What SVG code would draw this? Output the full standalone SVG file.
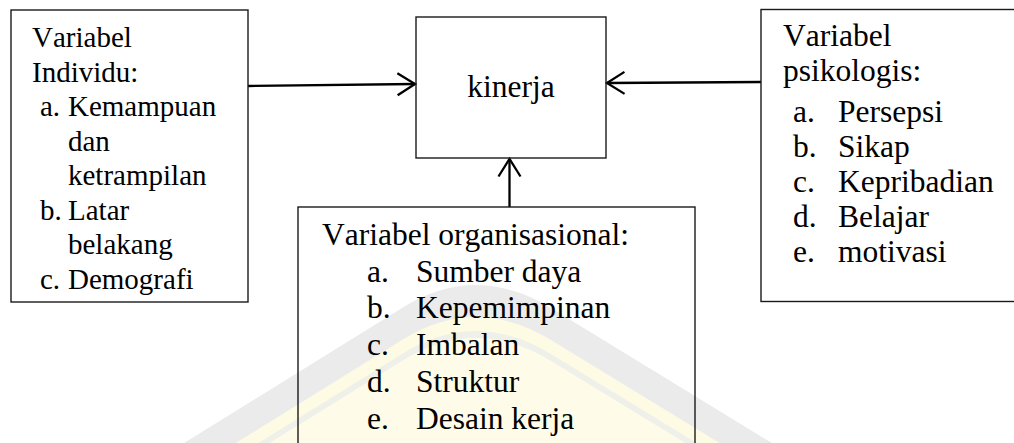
<svg xmlns="http://www.w3.org/2000/svg" width="1014" height="443" viewBox="0 0 1014 443">
  <style>
    .box { fill: none; stroke: #1a1a1a; stroke-width: 1.4; }
    .t { font-family: "Liberation Serif", "Times New Roman", serif; fill: #000; font-kerning: none; }
    .s { font-size: 29px; }
    .m { font-size: 31.5px; }
    .con { stroke: #000; stroke-width: 2.3; fill: none; }
  </style>
  <defs>
    <marker id="open" markerUnits="userSpaceOnUse" markerWidth="22" markerHeight="26" refX="19" refY="13" orient="auto">
      <path d="M1.5,2 L19,13 L1.5,24" fill="none" stroke="#000" stroke-width="2.3"/>
    </marker>
    <!-- rounded chevron used for the faint background emblem -->
    <path id="chev" d="M 92,500 L 402,308 Q 475,262 551,308 L 898,520 Z"/>
  </defs>

  <rect width="1014" height="443" fill="#fff"/>

  <g id="emblem">
    <use href="#chev" fill="#ebebeb"/>
    <use href="#chev" transform="translate(0,32)" fill="#fdfbe4"/>
    <use href="#chev" transform="translate(0,46)" fill="#f0f0ea"/>
    <use href="#chev" transform="translate(0,53)" fill="#fefce9"/>
  </g>

  <g id="connectors">
    <line class="con" x1="248" y1="86" x2="415" y2="84" marker-end="url(#open)"/>
    <line class="con" x1="761" y1="82" x2="607" y2="83" marker-end="url(#open)"/>
    <line class="con" x1="509.5" y1="207" x2="509.5" y2="159" marker-end="url(#open)"/>
  </g>

  <g id="individu">
    <rect class="box" x="11" y="10" width="237" height="292"/>
    <g class="t s">
      <text x="32" y="47">Variabel</text>
      <text x="32" y="81.5">Individu:</text>
      <text x="40" y="116">a.</text><text x="68" y="116">Kemampuan</text>
      <text x="68" y="150.5">dan</text>
      <text x="68" y="185">ketrampilan</text>
      <text x="40" y="219.5">b.</text><text x="68" y="219.5">Latar</text>
      <text x="68" y="254">belakang</text>
      <text x="40" y="288.5">c.</text><text x="68" y="288.5">Demografi</text>
    </g>
  </g>

  <g id="kinerja">
    <rect class="box" x="416" y="17" width="190" height="141"/>
    <text class="t m" x="511" y="97" text-anchor="middle">kinerja</text>
  </g>

  <g id="psikologis">
    <rect class="box" x="761" y="9.5" width="260" height="292"/>
    <g class="t m">
      <text x="783" y="46">Variabel</text>
      <text x="783" y="81">psikologis:</text>
      <text x="793" y="122">a.</text><text x="838" y="122">Persepsi</text>
      <text x="793" y="157">b.</text><text x="838" y="157">Sikap</text>
      <text x="793" y="192">c.</text><text x="838" y="192">Kepribadian</text>
      <text x="793" y="227">d.</text><text x="838" y="227">Belajar</text>
      <text x="793" y="262">e.</text><text x="838" y="262">motivasi</text>
    </g>
  </g>

  <g id="organisasional">
    <rect class="box" x="298" y="207" width="397" height="250"/>
    <g class="t m">
      <text x="322" y="245">Variabel organisasional:</text>
      <text x="367" y="282">a.</text><text x="416" y="282">Sumber daya</text>
      <text x="367" y="318">b.</text><text x="416" y="318">Kepemimpinan</text>
      <text x="367" y="355">c.</text><text x="416" y="355">Imbalan</text>
      <text x="367" y="392">d.</text><text x="416" y="392">Struktur</text>
      <text x="367" y="429">e.</text><text x="416" y="429">Desain kerja</text>
    </g>
  </g>
</svg>
